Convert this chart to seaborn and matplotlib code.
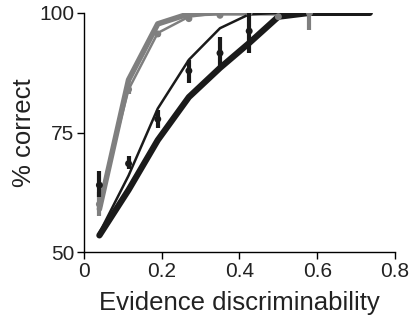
import matplotlib
matplotlib.use('Agg')
import matplotlib.pyplot as plt
import seaborn as sns
import numpy as np
import pandas as pd

# evidence discriminability levels
x = [0.04, 0.115, 0.19, 0.27, 0.35, 0.425, 0.5, 0.58, 0.735]

# model curves (% correct)
gray_thick = [59.0, 86.0, 97.7, 99.8, 100, 100, 100, 100, 100]
gray_thin = [60.5, 84.0, 95.8, 99.2, 100, 100, 100, 100, 100]
black_thick = [53.5, 63.0, 73.4, 82.4, 88.5, 93.7, 99.2, 100, 100]
black_thin = [54.0, 66.0, 80.0, 90.2, 96.8, 99.7, 100, 100, 100]

# data points with error ranges
gray_x = [0.04, 0.115, 0.19, 0.27, 0.35, 0.425, 0.5, 0.58]
gray_y = [60.0, 84.0, 95.6, 98.8, 99.5, 100, 99.2, 100]
gray_lo = [57.5, 83.0, 95.0, 98.3, 99.2, 99.8, 98.7, 96.5]
gray_hi = [62.5, 85.0, 96.2, 99.3, 99.8, 100, 99.7, 100]

black_x = [0.04, 0.115, 0.19, 0.27, 0.35, 0.425]
black_y = [64.0, 68.5, 77.8, 87.9, 91.6, 96.2]
black_lo = [61.5, 67.3, 76.0, 85.4, 88.7, 91.6]
black_hi = [67.0, 70.0, 79.7, 90.2, 95.0, 100]

gray = '#7f7f7f'
black = '#1a1a1a'

sns.set_style('ticks')
plt.rcParams['font.family'] = ['Liberation Sans', 'DejaVu Sans']

fig = plt.figure(figsize=(4.15, 3.22), dpi=100)
ax = fig.add_axes([0.202, 0.217, 0.75, 0.743])

sns.lineplot(x=x, y=gray_thick, color=gray, lw=4, ax=ax)
sns.lineplot(x=x, y=gray_thin, color=gray, lw=1.8, ax=ax)
sns.lineplot(x=x, y=black_thick, color=black, lw=4.5, ax=ax)
sns.lineplot(x=x, y=black_thin, color=black, lw=1.8, ax=ax)

ax.vlines(gray_x, gray_lo, gray_hi, color=gray, lw=3, zorder=3)
sns.scatterplot(x=gray_x, y=gray_y, color=gray, s=25, edgecolor='none', ax=ax, zorder=4)
ax.vlines(black_x, black_lo, black_hi, color=black, lw=3, zorder=5)
sns.scatterplot(x=black_x, y=black_y, color=black, s=25, edgecolor='none', ax=ax, zorder=6)

ax.set_xlim(0, 0.8)
ax.set_ylim(50, 100)
ax.set_xticks([0, 0.2, 0.4, 0.6, 0.8])
ax.set_xticklabels(['0', '0.2', '0.4', '0.6', '0.8'])
ax.set_yticks([50, 75, 100])
ax.tick_params(labelsize=15, length=5, width=1, pad=2, color='black', labelcolor='#222222')
ax.set_xlabel('Evidence discriminability', fontsize=18.5, color='#222222', labelpad=7)
ax.set_ylabel('% correct', fontsize=18.5, color='#222222', labelpad=2)
for s in ['left', 'bottom']:
    ax.spines[s].set_color('black')
    ax.spines[s].set_linewidth(1)
sns.despine(ax=ax)

fig.savefig('out.png', dpi=100)
